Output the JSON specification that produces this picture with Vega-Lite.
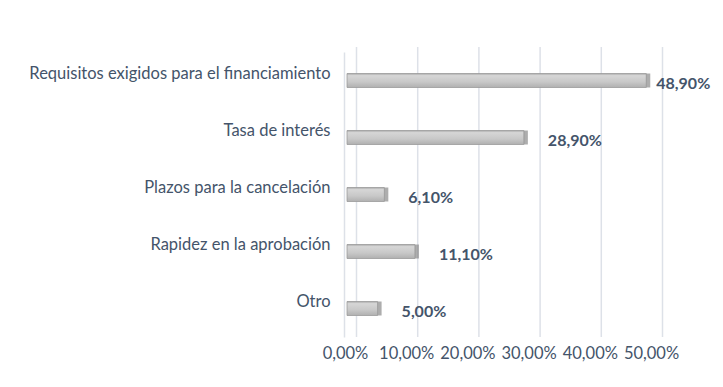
{
  "$schema": "https://vega.github.io/schema/vega-lite/v6.json",
  "width": 306,
  "height": 285,
  "autosize": {"type": "none"},
  "padding": {"left": 347, "top": 52, "right": 70, "bottom": 50},
  "background": "white",
  "config": {
    "view": {"stroke": null},
    "font": "Lato",
    "text": {"font": "Lato"}
  },
  "datasets": {
    "bars": [
      {"motivo": "Requisitos exigidos para el financiamiento", "pct": 48.9, "label": "48,90%"},
      {"motivo": "Tasa de interés", "pct": 28.9, "label": "28,90%"},
      {"motivo": "Plazos para la cancelación", "pct": 6.1, "label": "6,10%"},
      {"motivo": "Rapidez en la aprobación", "pct": 11.1, "label": "11,10%"},
      {"motivo": "Otro", "pct": 5.0, "label": "5,00%"}
    ],
    "grid": [{"g": 0}, {"g": 10}, {"g": 20}, {"g": 30}, {"g": 40}, {"g": 50}]
  },
  "layer": [
    {
      "data": {"name": "grid"},
      "mark": {"type": "rule", "color": "#dde1e8", "strokeWidth": 1.5, "xOffset": 9.5, "yOffset": -5, "y2Offset": -17},
      "encoding": {
        "x": {"field": "g", "type": "quantitative", "scale": {"domain": [0, 50]}}
      }
    },
    {
      "data": {"name": "bars"},
      "mark": {
        "type": "bar",
        "size": 14,
        "stroke": "#9a9a9a",
        "strokeWidth": 0.8,
        "color": {
          "gradient": "linear",
          "x1": 0, "y1": 0, "x2": 0, "y2": 1,
          "stops": [
            {"offset": 0, "color": "#a8a8a8"},
            {"offset": 0.15, "color": "#d6d6d6"},
            {"offset": 0.6, "color": "#c8c8c8"},
            {"offset": 1, "color": "#b0b0b0"}
          ]
        }
      },
      "encoding": {
        "y": {
          "field": "motivo", "type": "nominal", "sort": null,
          "scale": {"paddingInner": 0.75, "paddingOuter": 0.375},
          "axis": {
            "title": null, "domain": true, "domainColor": "#dde1e8", "domainWidth": 1.5, "offset": 3, "ticks": false,
            "labelFontSize": 16.5, "labelColor": "#44546A", "labelPadding": 14,
            "labelOffset": -7, "labelLimit": 400
          }
        },
        "x": {
          "field": "pct", "type": "quantitative",
          "scale": {"domain": [0, 50]},
          "axis": {
            "title": null, "grid": false, "domain": false, "ticks": false,
            "values": [0, 10, 20, 30, 40, 50], "labelOverlap": false, "labelFlush": false,
            "labelExpr": "replace(format(datum.value, '.2f'), '.', ',') + '%'",
            "labelFontSize": 16.5, "labelColor": "#44546A", "labelPadding": 8, "labelOffset": -2
          }
        }
      }
    },
    {
      "data": {"name": "bars"},
      "mark": {"type": "tick", "thickness": 4, "size": 14, "color": "#8a8a8a", "xOffset": 2},
      "encoding": {
        "y": {"field": "motivo", "type": "nominal", "sort": null},
        "x": {"field": "pct", "type": "quantitative"}
      }
    },
    {
      "data": {"name": "bars"},
      "transform": [{"filter": "datum.pct < 40"}],
      "mark": {"type": "text", "align": "left", "dx": 24, "dy": 3, "fontSize": 16, "fontWeight": "bold", "color": "#44546A"},
      "encoding": {
        "y": {"field": "motivo", "type": "nominal", "sort": null},
        "x": {"field": "pct", "type": "quantitative"},
        "text": {"field": "label"}
      }
    },
    {
      "data": {"name": "bars"},
      "transform": [{"filter": "datum.pct >= 40"}],
      "mark": {"type": "text", "align": "left", "dx": 10, "dy": 3, "fontSize": 16, "fontWeight": "bold", "color": "#44546A"},
      "encoding": {
        "y": {"field": "motivo", "type": "nominal", "sort": null},
        "x": {"field": "pct", "type": "quantitative"},
        "text": {"field": "label"}
      }
    }
  ]
}
